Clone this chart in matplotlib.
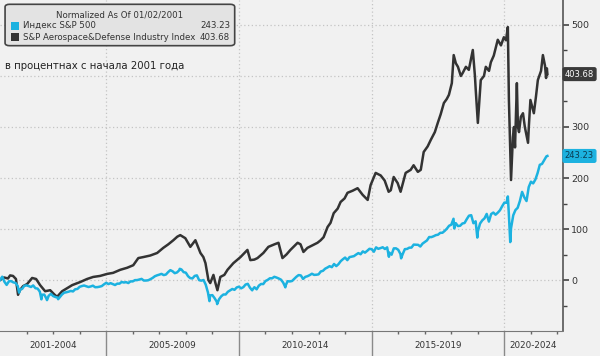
import numpy as np
import matplotlib.pyplot as plt
from matplotlib.patches import FancyBboxPatch, Rectangle

# S&P 500: значение на 02.01.2001 и закрытия месяцев 2001-01 .. 2021-07
sp_base = 1283.27
sp_monthly = [
    1366, 1240, 1160, 1249, 1256, 1224, 1211, 1134, 1041, 1060, 1139, 1148,  # 2001
    1130, 1107, 1147, 1077, 1067, 990, 912, 916, 815, 886, 936, 880,         # 2002
    856, 841, 848, 917, 964, 975, 990, 1008, 996, 1051, 1058, 1112,          # 2003
    1131, 1145, 1126, 1107, 1121, 1141, 1102, 1104, 1115, 1130, 1174, 1212,  # 2004
    1181, 1204, 1181, 1157, 1192, 1191, 1234, 1220, 1229, 1207, 1249, 1248,  # 2005
    1280, 1281, 1295, 1311, 1270, 1270, 1277, 1304, 1336, 1378, 1401, 1418,  # 2006
    1438, 1407, 1421, 1482, 1531, 1503, 1455, 1474, 1527, 1549, 1481, 1468,  # 2007
    1379, 1331, 1323, 1386, 1400, 1280, 1267, 1283, 1166, 969, 896, 903,     # 2008
    826, 735, 798, 873, 919, 919, 987, 1021, 1057, 1036, 1096, 1115,        # 2009
    1074, 1104, 1169, 1187, 1089, 1031, 1102, 1049, 1141, 1183, 1181, 1258,  # 2010
    1286, 1327, 1326, 1364, 1345, 1321, 1292, 1219, 1131, 1253, 1247, 1258,  # 2011
    1312, 1366, 1408, 1398, 1310, 1362, 1379, 1407, 1441, 1412, 1416, 1426,  # 2012
    1498, 1515, 1569, 1598, 1631, 1606, 1686, 1633, 1682, 1757, 1806, 1848,  # 2013
    1783, 1859, 1872, 1884, 1924, 1960, 1931, 2003, 1972, 2018, 2068, 2059,  # 2014
    1995, 2105, 2068, 2086, 2107, 2063, 2104, 1972, 1920, 2079, 2080, 2044,  # 2015
    1940, 1932, 2060, 2065, 2097, 2099, 2174, 2171, 2168, 2126, 2199, 2239,  # 2016
    2279, 2364, 2363, 2384, 2412, 2423, 2470, 2472, 2519, 2575, 2648, 2674,  # 2017
    2824, 2714, 2641, 2648, 2705, 2718, 2816, 2902, 2914, 2712, 2760, 2507,  # 2018
    2704, 2784, 2834, 2946, 2752, 2942, 2980, 2926, 2977, 3038, 3141, 3231,  # 2019
    3226, 2954, 2585, 2912, 3044, 3100, 3271, 3500, 3363, 3270, 3622, 3756,  # 2020
    3714, 3811, 3973, 4181, 4204, 4298, 4395,                                # 2021
]
# провалы/пики внутри месяцев и последняя точка
sp_extra_year = [2001.72, 2002.56, 2002.77, 2003.19, 2007.77, 2008.89, 2009.18,
                 2010.50, 2011.75, 2015.65, 2016.11, 2018.11, 2018.98, 2020.13,
                 2020.22, 2021.62]
sp_extra_level = [966, 797, 777, 800, 1565, 752, 677,
                  1023, 1099, 1868, 1829, 2581, 2351, 3386,
                  2237, 4405]

# S&P Aerospace&Defense Industry Index, % с 02.01.2001
ad_year = [2001.00, 2001.15, 2001.30, 2001.38, 2001.49, 2001.60, 2001.68, 2001.75, 2001.87,
           2002.02, 2002.21, 2002.36, 2002.51, 2002.70, 2002.89, 2003.04, 2003.15, 2003.34,
           2003.53, 2003.72, 2004.02, 2004.28, 2004.51, 2004.77, 2005.04, 2005.26, 2005.53,
           2005.79, 2006.02, 2006.21, 2006.40, 2006.66, 2006.92, 2007.15, 2007.34, 2007.53,
           2007.68, 2007.79, 2007.98, 2008.17, 2008.36, 2008.55, 2008.66, 2008.74, 2008.85,
           2008.92, 2009.04, 2009.11, 2009.19, 2009.30, 2009.45, 2009.57, 2009.79, 2010.06,
           2010.32, 2010.43, 2010.58, 2010.70, 2010.92, 2011.11, 2011.34, 2011.49, 2011.64,
           2011.79, 2011.94, 2012.21, 2012.32, 2012.43, 2012.58, 2012.81, 2012.96, 2013.08,
           2013.19, 2013.34, 2013.45, 2013.57, 2013.72, 2013.83, 2013.98, 2014.09, 2014.28,
           2014.47, 2014.66, 2014.85, 2014.96, 2015.15, 2015.34, 2015.49, 2015.64, 2015.72,
           2015.83, 2015.98, 2016.09, 2016.28, 2016.47, 2016.58, 2016.74, 2016.85, 2016.96,
           2017.11, 2017.23, 2017.38, 2017.49, 2017.60, 2017.72, 2017.83, 2017.91, 2018.02,
           2018.09, 2018.17, 2018.25, 2018.36, 2018.43, 2018.55, 2018.66, 2018.81, 2018.89,
           2018.92, 2019.00, 2019.11, 2019.23, 2019.30, 2019.42, 2019.49, 2019.60, 2019.75,
           2019.87, 2019.98, 2020.06, 2020.13, 2020.17, 2020.25, 2020.32, 2020.36, 2020.40,
           2020.47, 2020.51, 2020.55, 2020.62, 2020.70, 2020.77, 2020.89, 2020.92, 2020.98,
           2021.11, 2021.19, 2021.26, 2021.38, 2021.45, 2021.53, 2021.57, 2021.60, 2021.62]
ad_pct = [0, 5, 3, 9, 8, 2, -29, -20, -12,
          -8, 4, 2, -10, -22, -20, -28, -33, -22,
          -16, -10, -4, 2, 6, 8, 12, 14, 20,
          24, 29, 43, 45, 48, 53, 63, 70, 78,
          85, 88, 82, 65, 78, 53, 45, 33, 0,
          -6, 10, -5, -20, 6, 10, 20, 33, 45,
          59, 39, 40, 43, 53, 65, 70, 73, 43,
          50, 59, 73, 70, 55, 63, 69, 73, 78,
          84, 104, 112, 131, 140, 153, 160, 171, 175,
          180, 167, 157, 186, 210, 205, 195, 173, 176,
          202, 190, 173, 210, 216, 225, 212, 216, 251,
          262, 275, 290, 308, 325, 347, 355, 363, 386,
          441, 425, 418, 400, 406, 418, 412, 451, 400,
          373, 308, 392, 400, 418, 410, 427, 440, 471,
          460, 476, 470, 496, 353, 196, 280, 300, 260,
          386, 300, 290, 320, 327, 300, 269, 300, 353,
          327, 360, 392, 410, 441, 420, 396, 415, 403.68]

sp_last = 243.23
ad_last = 403.68

period_labels = ['2001-2004', '2005-2009', '2010-2014', '2015-2019', '2020-2024']
period_centers = [2003.0, 2007.5, 2012.5, 2017.5, 2021.1]
period_bounds = [2005, 2010, 2015, 2020]

cyan = '#1cb2e0'
dark = '#333333'
bg = '#f1f1f1'

# собрать S&P 500 в один ряд
sp_year = [2001.0] + [2001 + (i + 1) / 12 for i in range(len(sp_monthly))] + sp_extra_year
sp_level = [sp_base] + sp_monthly + sp_extra_level
order = np.argsort(sp_year)
sp_year = np.array(sp_year)[order]
sp_pct = (np.array(sp_level, dtype=float)[order] / sp_base - 1) * 100

plt.rcParams['font.family'] = 'DejaVu Sans'
fig = plt.figure(figsize=(6, 3.56), dpi=100, facecolor=bg)
ax = fig.add_axes([0, 0.0702, 0.938, 0.9298], facecolor=bg)

ax.plot(ad_year, ad_pct, color=dark, lw=1.8, zorder=3)
ax.plot(sp_year, sp_pct, color=cyan, lw=1.8, zorder=4)

ax.set_xlim(2001.0, 2022.2)
ax.set_ylim(-100, 549)

# оси
for s in ['left', 'top']:
    ax.spines[s].set_visible(False)
ax.spines['right'].set_color('#555555')
ax.spines['right'].set_linewidth(1.2)
ax.spines['bottom'].set_color('#777777')
ax.spines['bottom'].set_linestyle((0, (2, 1)))

ax.yaxis.tick_right()
ax.set_yticks([0, 100, 200, 300, 400, 500])
# подпись 400 закрыта ярлыком последнего значения
ax.set_yticklabels(['0', '100', '200', '300', '', '500'])
ax.set_yticks(np.arange(-50, 500, 100), minor=True)
ax.tick_params(axis='y', which='major', direction='out', length=4, width=1.2,
               color='#444444', labelsize=6.8, labelcolor='#333333', pad=2)
ax.tick_params(axis='y', which='minor', direction='out', length=3, width=1, color='#444444')

ax.set_xticks(period_bounds)
ax.set_xticks(np.arange(2002, 2023), minor=True)
ax.tick_params(axis='x', which='major', direction='out', length=19, width=1,
               color='#8a8a8a', labelbottom=False)
ax.tick_params(axis='x', which='minor', direction='out', length=2.5, width=1, color='#666666')

ax.grid(True, which='major', color='#c4c4c4', linestyle=(0, (1, 2)), lw=0.9)

for lab, c in zip(period_labels, period_centers):
    ax.text(c, -0.043, lab, transform=ax.get_xaxis_transform(), ha='center', va='center',
            fontsize=6.3, color='#333333')

# ярлыки последних значений
ax.annotate(f'{ad_last:.2f}', xy=(1, ad_last), xycoords=('axes fraction', 'data'),
            xytext=(1.5, 0), textcoords='offset points', ha='left', va='center',
            fontsize=6.0, color='white', annotation_clip=False, zorder=6,
            bbox=dict(boxstyle='round,pad=0.22,rounding_size=0.2', fc='#3a3a3a', ec='#3a3a3a'))
ax.annotate(f'{sp_last:.2f}', xy=(1, sp_last), xycoords=('axes fraction', 'data'),
            xytext=(1.5, 0), textcoords='offset points', ha='left', va='center',
            fontsize=6.0, color='#0b3b52', annotation_clip=False, zorder=6,
            bbox=dict(boxstyle='round,pad=0.22,rounding_size=0.2', fc=cyan, ec=cyan))

# легенда
ax.add_patch(FancyBboxPatch((0.009, 0.862), 0.408, 0.125, transform=ax.transAxes,
                            boxstyle='round,pad=0,rounding_size=0.008',
                            fc='#e3e3e3', ec='#444444', lw=1.2, zorder=7))
ax.text(0.213, 0.955, 'Normalized As Of 01/02/2001', transform=ax.transAxes,
        ha='center', va='center', fontsize=6.2, color='#333333', zorder=8)
rows = [(0.922, cyan, 'Индекс S&P 500', sp_last), (0.888, dark, 'S&P Aerospace&Defense Industry Index', ad_last)]
for y, col, name, val in rows:
    ax.add_patch(Rectangle((0.019, y - 0.013), 0.015, 0.026, transform=ax.transAxes,
                           fc=col, ec='none', zorder=8))
    ax.text(0.040, y, name, transform=ax.transAxes, ha='left', va='center',
            fontsize=6.2, color='#333333', zorder=8)
    ax.text(0.409, y, f'{val:.2f}', transform=ax.transAxes, ha='right', va='center',
            fontsize=6.2, color='#333333', zorder=8)

ax.text(0.009, 0.80, 'в процентнах с начала 2001 года', transform=ax.transAxes,
        ha='left', va='center', fontsize=7.3, color='#222222', zorder=8)

fig.savefig('out.png', dpi=100, facecolor=bg)
